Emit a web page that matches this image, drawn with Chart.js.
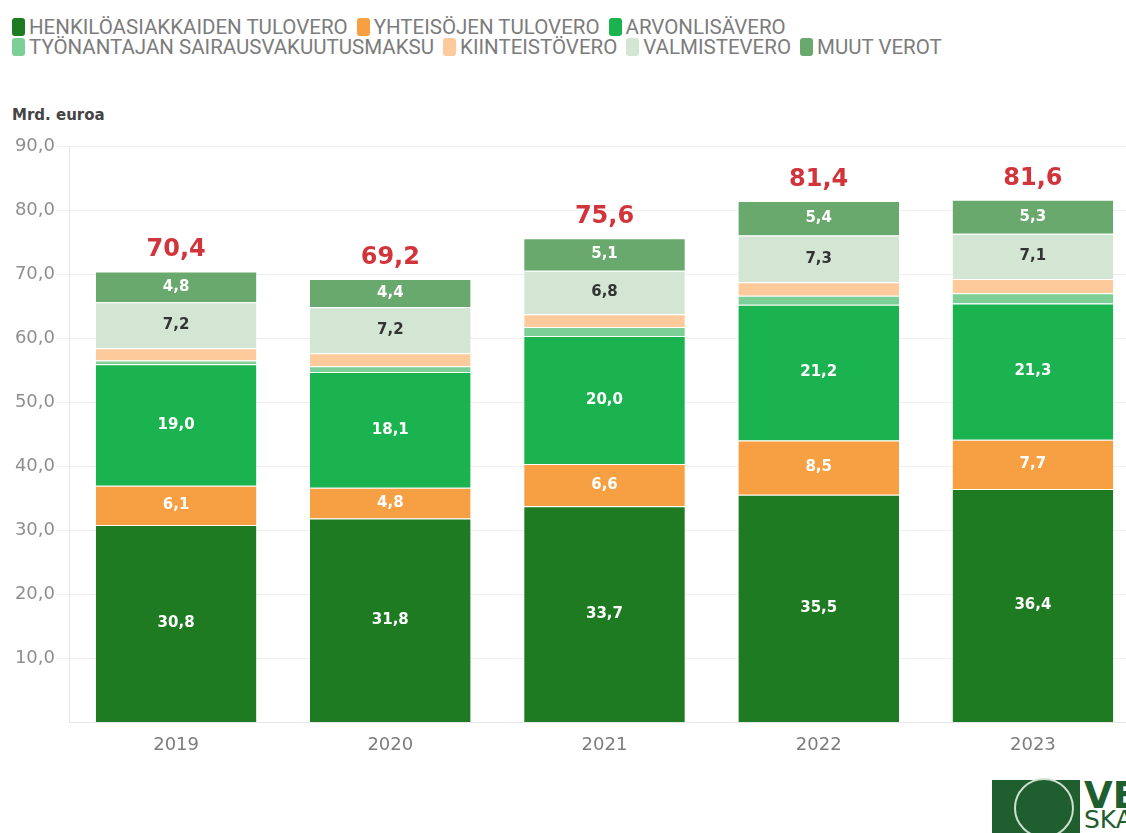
<!DOCTYPE html>
<html lang="fi">
<head>
<meta charset="utf-8">
<title>Verotulot 2019–2023</title>
<script src="https://cdn.jsdelivr.net/npm/chart.js@4"></script>
<style>
  html, body { margin: 0; padding: 0; background: #fff; overflow: hidden; }
  body { width: 1126px; height: 833px; position: relative; }
  .legend { position: absolute; left: 12px; top: 17px; font-family: Roboto, sans-serif; font-size: 20.5px; color: #7c7c7c; }
  .legend .row { display: flex; height: 20px; align-items: center; white-space: nowrap; }
  .legend .item { display: flex; align-items: center; margin-right: 9px; }
  .legend .sw { width: 13px; height: 18px; border-radius: 3px; margin-right: 4px; }
  .unit { position: absolute; left: 12px; top: 106px; font: bold 15px "DejaVu Sans", sans-serif; color: #444; }
  #chart { position: absolute; left: 0; top: 128px; }
  .logo { position: absolute; left: 992px; top: 780px; width: 200px; height: 60px; }
  .logo .box { position: absolute; left: 0; top: 0; width: 88px; height: 53px; background: #1f5e2e; }
  .logo .ring { position: absolute; left: 22px; top: -2px; width: 56px; height: 56px; border-radius: 50%; border: 2px solid #cfe0cf; background: #1f5e2e; }
  .logo .t1 { position: absolute; left: 92px; top: -6px; font: bold 37px "DejaVu Sans", sans-serif; color: #1f5e2e; }
  .logo .t2 { position: absolute; left: 92px; top: 25px; font: 25px "DejaVu Sans", sans-serif; color: #1f5e2e; }
</style>
</head>
<body>
<div class="legend" id="legend"></div>
<div class="unit">Mrd. euroa</div>
<canvas id="chart" width="1140" height="640"></canvas>
<div class="logo"><div class="box"></div><div class="ring"></div><div class="t1">VEROHALLINTO</div><div class="t2">SKATTEFÖRVALTNINGEN</div></div>
<script>
// vuodet ja verolajit, mrd. euroa
var years = ['2019', '2020', '2021', '2022', '2023'];
var henkiloTulovero = [30.8, 31.8, 33.7, 35.5, 36.4];
var yhteisoTulovero = [6.1, 4.8, 6.6, 8.5, 7.7];
var arvonlisavero = [19.0, 18.1, 20.0, 21.2, 21.3];
var sairausvakuutus = [0.6, 0.9, 1.4, 1.4, 1.6];
var kiinteistovero = [1.9, 2.0, 2.0, 2.1, 2.2];
var valmistevero = [7.2, 7.2, 6.8, 7.3, 7.1];
var muutVerot = [4.8, 4.4, 5.1, 5.4, 5.3];
var totals = [70.4, 69.2, 75.6, 81.4, 81.6];
var yTicks = [10, 20, 30, 40, 50, 60, 70, 80, 90];

var series = [
  { label: 'HENKILÖASIAKKAIDEN TULOVERO', data: henkiloTulovero, color: '#1e7b22', text: '#fff' },
  { label: 'YHTEISÖJEN TULOVERO', data: yhteisoTulovero, color: '#f7a043', text: '#fff' },
  { label: 'ARVONLISÄVERO', data: arvonlisavero, color: '#1bb34f', text: '#fff' },
  { label: 'TYÖNANTAJAN SAIRAUSVAKUUTUSMAKSU', data: sairausvakuutus, color: '#7ccf96', text: null },
  { label: 'KIINTEISTÖVERO', data: kiinteistovero, color: '#fdcb9b', text: null },
  { label: 'VALMISTEVERO', data: valmistevero, color: '#d3e6d3', text: '#333' },
  { label: 'MUUT VEROT', data: muutVerot, color: '#6aa96d', text: '#fff' }
];
var legendRows = [[0, 1, 2], [3, 4, 5, 6]];

function fi(v) { return v.toFixed(1).replace('.', ','); }

// legenda kahdelle riville kuten lähteessä
var legendEl = document.getElementById('legend');
legendRows.forEach(function (row) {
  var r = document.createElement('div');
  r.className = 'row';
  row.forEach(function (i) {
    var it = document.createElement('div');
    it.className = 'item';
    it.innerHTML = '<span class="sw" style="background:' + series[i].color + '"></span>' + series[i].label;
    r.appendChild(it);
  });
  legendEl.appendChild(r);
});

var segmentLabels = {
  id: 'segmentLabels',
  afterDatasetsDraw: function (chart) {
    var ctx = chart.ctx;
    ctx.save();
    ctx.textAlign = 'center';
    ctx.textBaseline = 'middle';
    ctx.font = 'bold 15px "DejaVu Sans", sans-serif';
    chart.data.datasets.forEach(function (ds, di) {
      if (!ds.textColor) return;
      chart.getDatasetMeta(di).data.forEach(function (bar, i) {
        var mid = (bar.y + bar.base) / 2;
        ctx.fillStyle = ds.textColor;
        ctx.fillText(fi(ds.data[i]), bar.x, mid);
      });
    });
    // summat punaisella pylväiden yläpuolelle
    var xs = chart.scales.x, ys = chart.scales.y;
    ctx.font = 'bold 24px "DejaVu Sans", sans-serif';
    ctx.fillStyle = '#d2343b';
    ctx.textBaseline = 'alphabetic';
    totals.forEach(function (t, i) {
      ctx.fillText(fi(t), xs.getPixelForValue(i), ys.getPixelForValue(t) - 15);
    });
    ctx.restore();
  }
};

new Chart(document.getElementById('chart'), {
  type: 'bar',
  data: {
    labels: years,
    datasets: series.map(function (s) {
      return {
        label: s.label, data: s.data, backgroundColor: s.color, textColor: s.text,
        borderColor: '#fff', borderWidth: { top: 1, left: 0, right: 0, bottom: 0 }, borderSkipped: false,
        categoryPercentage: 0.75, barPercentage: 1
      };
    })
  },
  options: {
    responsive: false,
    animation: false,
    layout: { padding: { top: 18, right: 0, bottom: 0, left: 0 } },
    plugins: { legend: { display: false }, tooltip: { enabled: false } },
    scales: {
      x: {
        stacked: true,
        grid: { display: false },
        border: { color: '#e6e6e6' },
        ticks: { color: '#7d7d7d', font: { family: 'DejaVu Sans', size: 18 }, padding: 5 },
        afterFit: function (scale) { scale.height = 46; }
      },
      y: {
        stacked: true, min: 0, max: 90,
        afterBuildTicks: function (scale) { scale.ticks = yTicks.map(function (v) { return { value: v }; }); },
        afterFit: function (scale) { scale.width = 69; },
        grid: { color: '#efefef', tickLength: 12 },
        border: { color: '#e6e6e6' },
        ticks: {
          color: '#8f8f8f', font: { family: 'DejaVu Sans', size: 18 }, padding: 2,
          callback: function (v) { return fi(v); }
        }
      }
    }
  },
  plugins: [segmentLabels]
});
</script>
</body>
</html>
